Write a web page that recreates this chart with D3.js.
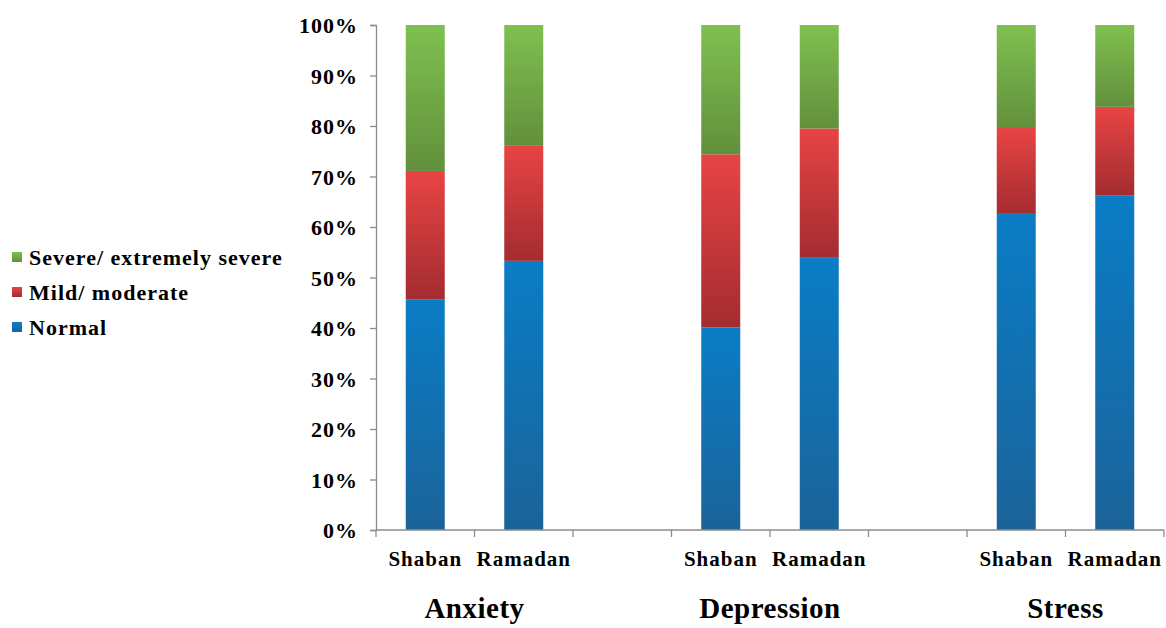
<!DOCTYPE html>
<html>
<head>
<meta charset="utf-8">
<script src="https://cdn.jsdelivr.net/npm/d3@7"></script>
<style>
  body { margin: 0; background: #fff; }
</style>
</head>
<body>
<svg width="1166" height="628"></svg>
<script>
// data
const groups = ['Anxiety', 'Depression', 'Stress'];
const periods = ['Shaban', 'Ramadan'];
const normal = [45.7, 53.3, 40.1, 53.9, 62.6, 66.2];
const mild = [25.4, 22.9, 34.3, 25.6, 17.0, 17.6];
const severe = [28.9, 23.8, 25.6, 20.5, 20.4, 16.2];
const seriesNames = ['Normal', 'Mild/ moderate', 'Severe/ extremely severe'];
const yTicks = [0, 10, 20, 30, 40, 50, 60, 70, 80, 90, 100];

const FONT = '"Times New Roman", "Liberation Serif", Times, serif';
const svg = d3.select('svg');

const margin = { top: 25, left: 376, right: 2, bottom: 98 };
const width = 1166, height = 628;
const innerW = width - margin.left - margin.right;
const innerH = height - margin.top - margin.bottom;

// 8 slots: two bars per group plus an empty gap slot between groups
const slots = [];
groups.forEach((g, gi) => {
  periods.forEach(p => slots.push(g + '|' + p));
  if (gi < groups.length - 1) slots.push('gap' + gi);
});

const rows = [];
groups.forEach((g, gi) => periods.forEach((p, pi) => {
  const i = gi * 2 + pi;
  rows.push({ key: g + '|' + p, Normal: normal[i], 'Mild/ moderate': mild[i], 'Severe/ extremely severe': severe[i] });
}));

const x = d3.scaleBand().domain(slots).range([0, innerW]).paddingInner(0).paddingOuter(0);
const y = d3.scaleLinear().domain([0, 100]).range([innerH, 0]);

const defs = svg.append('defs');
const grads = [
  ['Normal', '#0a7dc6', '#1b6399'],
  ['Mild/ moderate', '#e84444', '#a32c30'],
  ['Severe/ extremely severe', '#7fc050', '#62903c']
];
const colorId = {};
grads.forEach(([name, top, bottom], i) => {
  const id = 'grad' + i;
  colorId[name] = id;
  const lg = defs.append('linearGradient').attr('id', id)
    .attr('x1', 0).attr('y1', 0).attr('x2', 0).attr('y2', 1);
  lg.append('stop').attr('offset', '0%').attr('stop-color', top);
  lg.append('stop').attr('offset', '100%').attr('stop-color', bottom);
});

const g = svg.append('g').attr('transform', `translate(${margin.left},${margin.top})`);

const stacked = d3.stack().keys(seriesNames)(rows);
const barW = 39;

g.selectAll('g.layer').data(stacked).enter().append('g')
  .attr('class', 'layer')
  .attr('fill', d => `url(#${colorId[d.key]})`)
  .selectAll('rect').data(d => d).enter().append('rect')
    .attr('x', d => x(d.data.key) + (x.bandwidth() - barW) / 2)
    .attr('width', barW)
    .attr('y', d => y(d[1]))
    .attr('height', d => y(d[0]) - y(d[1]));

// y axis
const yAxis = g.append('g')
  .call(d3.axisLeft(y).tickValues(yTicks).tickFormat(d => d + '%').tickSize(6).tickPadding(12));
yAxis.selectAll('path, line').attr('stroke', '#8c8c8c').attr('stroke-width', 1.3);
yAxis.selectAll('text')
  .style('font-family', FONT).style('font-weight', 'bold').style('font-size', '22px')
  .style('letter-spacing', '1px')
  .attr('fill', '#000').attr('dy', '0.35em');

// x axis
const xAxis = g.append('g').attr('transform', `translate(0,${innerH})`);
xAxis.append('line').attr('x1', 0).attr('x2', innerW).attr('stroke', '#8c8c8c').attr('stroke-width', 1.3);
xAxis.selectAll('line.tick').data(d3.range(slots.length + 1)).enter().append('line')
  .attr('class', 'tick')
  .attr('x1', i => i * x.step()).attr('x2', i => i * x.step())
  .attr('y1', 0).attr('y2', 7)
  .attr('stroke', '#8c8c8c').attr('stroke-width', 1.3);

xAxis.selectAll('text.cat').data(rows).enter().append('text')
  .attr('class', 'cat')
  .attr('x', d => x(d.key) + x.bandwidth() / 2)
  .attr('y', 36)
  .attr('text-anchor', 'middle')
  .style('font-family', FONT).style('font-weight', 'bold').style('font-size', '21px')
  .style('letter-spacing', '1px')
  .text(d => d.key.split('|')[1]);

xAxis.selectAll('text.grp').data(groups).enter().append('text')
  .attr('class', 'grp')
  .attr('x', d => x(d + '|' + periods[1]))
  .attr('y', 88)
  .attr('text-anchor', 'middle')
  .style('font-family', FONT).style('font-weight', 'bold').style('font-size', '29px')
  .style('letter-spacing', '0.5px')
  .text(d => d);

// legend
const legendItems = seriesNames.slice().reverse();
const legend = svg.append('g').attr('transform', 'translate(12,257)');
legendItems.forEach((name, i) => {
  const row = legend.append('g').attr('transform', `translate(0,${i * 35})`);
  row.append('rect').attr('x', 0).attr('y', -5).attr('width', 10).attr('height', 10)
    .attr('fill', `url(#${colorId[name]})`);
  row.append('text').attr('x', 17).attr('y', 0).attr('dy', '0.35em')
    .style('font-family', FONT).style('font-weight', 'bold').style('font-size', '22px')
    .style('letter-spacing', '1px')
    .text(name);
});
</script>
</body>
</html>
